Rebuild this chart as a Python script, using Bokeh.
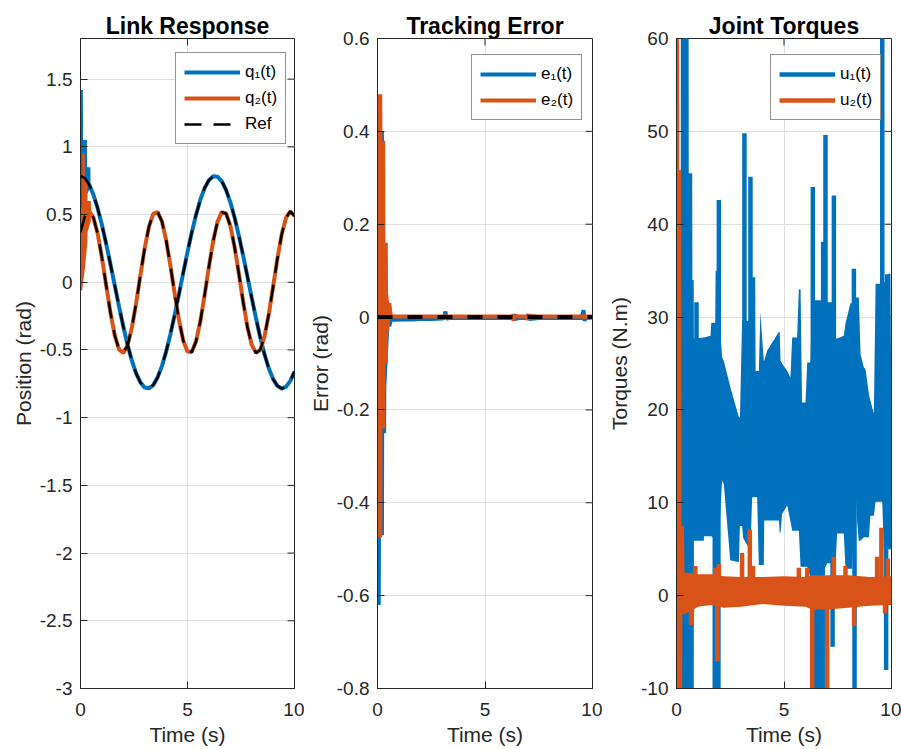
import math
from bokeh.plotting import figure
from bokeh.models import Range1d, FixedTicker, Legend, LegendItem, Span
from bokeh.layouts import row
from bokeh.embed import file_html
from bokeh.resources import INLINE

BLUE = "#0072BD"
ORANGE = "#D95319"
AX = "#262626"
GRID = "#e0e0e0"
FONT = "Liberation Sans"

# ---------------- Link response (reference trajectories, read at 0.2 s steps) ----------------
t_ref = [0.0, 0.2, 0.4, 0.6, 0.8, 1.0, 1.2, 1.4, 1.6, 1.8, 2.0, 2.2, 2.4, 2.6, 2.8, 3.0, 3.2, 3.4,
         3.6, 3.8, 4.0, 4.2, 4.4, 4.6, 4.8, 5.0, 5.2, 5.4, 5.6, 5.8, 6.0, 6.2, 6.4, 6.6, 6.8, 7.0,
         7.2, 7.4, 7.6, 7.8, 8.0, 8.2, 8.4, 8.6, 8.8, 9.0, 9.2, 9.4, 9.6, 9.8, 10.0]
q1_ref = [0.785, 0.769, 0.723, 0.648, 0.547, 0.424, 0.284, 0.133, -0.023, -0.178, -0.327, -0.462,
          -0.579, -0.673, -0.740, -0.777, -0.784, -0.759, -0.704, -0.621, -0.513, -0.385, -0.241,
          -0.088, 0.069, 0.223, 0.368, 0.498, 0.609, 0.695, 0.754, 0.782, 0.780, 0.746, 0.682,
          0.592, 0.478, 0.344, 0.197, 0.042, -0.114, -0.266, -0.408, -0.533, -0.637, -0.715,
          -0.765, -0.785, -0.773, -0.730, -0.659]
q2_ref = [0.370, 0.485, 0.524, 0.480, 0.360, 0.183, -0.023, -0.225, -0.392, -0.496, -0.523, -0.466,
          -0.336, -0.154, 0.053, 0.252, 0.411, 0.505, 0.519, 0.452, 0.313, 0.124, -0.084, -0.279,
          -0.430, -0.512, -0.515, -0.436, -0.288, -0.094, 0.114, 0.304, 0.446, 0.518, 0.508,
          0.418, 0.261, 0.064, -0.144, -0.330, -0.461, -0.522, -0.499, -0.400, -0.234, -0.034,
          0.173, 0.352, 0.475, 0.524, 0.490]

# start-up chattering of the measured links (envelopes)
q1_tr_t = [0.00, 0.11, 0.12, 0.30, 0.31, 0.46, 0.47, 0.60]
q1_tr_hi = [1.42, 1.42, 1.05, 1.05, 0.85, 0.85, 0.73, 0.65]
q1_tr_lo = [0.54, 0.54, 0.60, 0.62, 0.65, 0.70, 0.70, 0.65]
q2_tr_t = [0.00, 0.07, 0.08, 0.20, 0.21, 0.32, 0.33, 0.48, 0.50]
q2_tr_hi = [0.55, 0.55, 0.95, 0.95, 0.75, 0.75, 0.60, 0.60, 0.52]
q2_tr_lo = [-0.06, -0.06, -0.06, 0.10, 0.10, 0.30, 0.37, 0.45, 0.52]

# ---------------- Tracking error ----------------
e1_tr_t = [0.00, 0.15, 0.16, 0.30, 0.31, 0.40, 0.41, 0.55, 0.65]
e1_tr_hi = [0.26, 0.40, 0.40, 0.40, 0.05, 0.05, 0.05, 0.00, 0.00]
e1_tr_lo = [-0.62, -0.62, -0.47, -0.47, -0.25, -0.25, -0.15, -0.02, -0.005]
e2_tr_t = [0.00, 0.22, 0.23, 0.36, 0.37, 0.48, 0.49, 0.62]
e2_tr_hi = [0.48, 0.48, 0.38, 0.38, 0.16, 0.16, 0.05, 0.00]
e2_tr_lo = [-0.475, -0.475, -0.24, -0.24, -0.10, -0.10, -0.04, 0.00]

e_t = [0.55, 0.62, 0.8, 1.2, 1.6, 2.0, 2.5, 3.0, 3.1, 3.16, 3.22, 3.3, 4.0, 4.5, 5.0, 5.5, 6.0,
       6.28, 6.33, 6.38, 6.6, 6.95, 7.0, 7.05, 7.5, 8.0, 8.5, 9.0, 9.5, 9.58, 9.63, 9.68, 10.0]
e1 = [-0.020, -0.006, -0.006, -0.005, -0.005, -0.004, -0.004, -0.003, -0.002, 0.012, -0.004,
      -0.002, -0.002, -0.002, -0.002, -0.002, -0.002, -0.002, 0.006, -0.004, -0.002, -0.002,
      0.006, -0.004, -0.002, -0.002, -0.002, -0.002, -0.002, 0.015, -0.008, -0.002, -0.001]
e2 = [0.030, 0.002, 0.001, 0.001, 0.001, 0.001, 0.001, 0.001, 0.001, 0.002, 0.001, 0.001, 0.001,
      0.001, 0.001, 0.001, 0.001, 0.001, -0.008, 0.003, 0.001, 0.001, -0.006, 0.003, 0.001, 0.001,
      0.001, 0.001, 0.001, 0.003, -0.002, 0.001, 0.001]

# ---------------- Joint torques (chattering band envelopes + isolated spikes) ----------------
u1_t = [0.00, 0.19, 0.20, 0.56, 0.57, 0.73, 0.74, 0.80, 0.81, 1.27, 1.28, 1.58, 1.62, 1.80, 1.82,
        1.96, 2.02, 2.12, 2.20, 2.50, 2.90, 2.95, 3.05, 3.10, 3.40, 3.44, 3.52, 3.66, 3.68, 3.75,
        3.83, 3.90, 4.06, 4.08, 4.22, 4.76, 4.80, 4.84, 4.91, 5.15, 5.30, 5.38, 5.61, 5.69, 5.77,
        5.84, 6.00, 6.08, 6.23, 6.30, 6.70, 7.01, 7.32, 7.40, 7.47, 7.78, 7.86, 8.09, 8.17, 8.33,
        8.40, 8.48, 8.56, 8.71, 8.79, 8.95, 9.02, 9.18, 9.26, 9.49, 9.57, 9.64, 9.88, 9.95, 10.00]
u1_hi = [-15, -15, 75, 75, 45.5, 45.5, 34.0, 34.0, 27.7, 27.8, 27.8, 28.0, 29.4, 29.4, 35.0,
         35.0, 29.0, 25.7, 25.3, 22.5, 19.2, 19.2, 29.6, 29.6, 29.6, 34.3, 34.3, 34.3, 24.2, 24.2,
         24.2, 30.5, 25.3, 25.3, 26.4, 28.4, 28.4, 25.3, 25.0, 24.2, 23.5, 27.8, 27.8, 33.0, 33.0,
         20.8, 20.8, 25.1, 25.1, 31.8, 31.8, 31.6, 31.6, 27.7, 27.7, 28.0, 29.3, 31.5, 31.5, 32.1,
         32.1, 32.1, 26.0, 24.6, 24.4, 21.7, 21.0, 19.6, 33.6, 33.6, 33.6, 33.6, 34.7, 34.7, 18.1]
u1_lo = [-15, -15, -15, -15, -15, -15, -15, -15, 5.9, 5.9, 6.4, 6.4, 6.4, 6.0, 6.0,
         6.0, 8.0, 12.4, 12.0, 3.8, 3.6, 7.5, 7.5, 6.2, 5.0, 5.0, 10.6, 10.6, 10.6, 10.6,
         3.3, 3.3, 3.3, 8.1, 8.1, 8.1, 6.8, 6.8, 8.8, 9.7, 8.0, 7.0, 7.0, 7.0, 3.1,
         3.1, 3.1, 3.1, 2.0, 2.0, 2.0, 3.5, 3.5, 3.5, 6.7, 6.7, 2.9, 2.9, 2.9, 11.7,
         8.0, 5.9, 5.9, 6.3, 6.3, 6.3, 8.6, 8.6, 10.1, 10.1, 10.1, 5.0, 5.0, 5.0, 5.0]
u1_spike_t = [0.93, 1.97, 3.16, 3.44, 6.34, 6.82, 6.93, 7.32, 8.25, 9.57, 9.80]
u1_spike_top = [31.6, 42.6, 49.8, 45.1, 44.0, 38.1, 49.6, 43.1, 35.2, 75.0, 34.6]
u1_dip_t = [1.78, 1.95, 6.47, 6.62, 6.80, 7.26, 8.28, 9.75]
u1_dip_bot = [-15, -15, -15, -15, -15, -5.5, -15, -8.0]

u2_t = [0.00, 0.12, 0.13, 0.22, 0.23, 0.26, 0.27, 0.35, 0.37, 0.80, 1.00, 1.60, 2.20, 3.00,
        4.00, 5.00, 6.00, 6.30, 7.00, 8.00, 9.00, 10.00]
u2_hi = [75, 75, 45.8, 45.8, 7.5, 7.5, 7.5, 7.5, 2.5, 2.4, 2.3, 2.3, 2.1, 2.0,
         2.0, 2.1, 2.0, 2.2, 2.2, 2.2, 2.0, 2.1]
u2_lo = [-15, -15, -15, -15, -15, -15, -2.0, -2.0, -2.0, -1.5, -1.2, -1.0, -1.3, -1.2,
         -0.9, -1.1, -1.2, -1.5, -1.5, -1.3, -1.1, -1.0]
u2_spike_t = [0.88, 1.81, 1.97, 3.05, 3.41, 3.56, 5.69, 6.08, 7.32, 7.86, 9.33, 9.53, 9.83]
u2_spike_top = [3.2, 3.0, 3.4, 4.6, 7.1, 3.2, 3.0, 3.0, 4.2, 3.2, 4.2, 7.3, 4.0]
u2_dip_t = [0.68, 1.90, 6.31, 7.01, 8.26, 9.70]
u2_dip_bot = [-3.2, -7.1, -15, -15, -3.3, -1.9]

time_ticks = [0, 5, 10]
pos_ticks = [-3, -2.5, -2, -1.5, -1, -0.5, 0, 0.5, 1, 1.5]
err_ticks = [-0.8, -0.6, -0.4, -0.2, 0, 0.2, 0.4, 0.6]
tq_ticks = [-10, 0, 10, 20, 30, 40, 50, 60]

X_RANGE = (0, 10)
FRAME_H = 650


def fmt(v):
    return "%g" % v


def make_fig(title, ylabel, yr, yticks, lb, rb, fw, ylab_standoff):
    p = figure(frame_width=fw, frame_height=FRAME_H, x_range=Range1d(*X_RANGE),
               y_range=Range1d(*yr), output_backend="svg", toolbar_location=None,
               min_border_left=lb, min_border_right=rb, min_border_top=38, min_border_bottom=61,
               x_axis_label="Time (s)", y_axis_label=ylabel, background_fill_color="white",
               border_fill_color="white")
    p.outline_line_color = AX
    p.outline_line_width = 1
    p.title.text = title
    p.title.text_font = FONT
    p.title.text_font_size = "23px"
    p.title.text_font_style = "bold"
    p.title.text_color = "black"
    p.title.align = "center"
    p.title.standoff = 0
    for ax, ticks in ((p.xaxis[0], time_ticks), (p.yaxis[0], yticks)):
        ax.ticker = FixedTicker(ticks=ticks)
        ax.major_label_overrides = {v: fmt(v) for v in ticks}
        ax.axis_line_color = AX
        ax.major_tick_line_color = AX
        ax.major_tick_in = 7
        ax.major_tick_out = 0
        ax.minor_tick_line_color = None
        ax.major_label_text_font = FONT
        ax.major_label_text_font_size = "19px"
        ax.major_label_text_color = AX
        ax.axis_label_text_font = FONT
        ax.axis_label_text_font_size = "21px"
        ax.axis_label_text_font_style = "normal"
        ax.axis_label_text_color = AX
    p.xaxis[0].major_label_standoff = 14
    p.xaxis[0].axis_label_standoff = 4
    p.yaxis[0].major_label_standoff = 8
    p.yaxis[0].axis_label_standoff = ylab_standoff
    # inward ticks on the right and top edges of the box (MATLAB "box on")
    p.ray(x=[X_RANGE[1]] * len(yticks), y=yticks, length=7, length_units="screen",
          angle=math.pi, line_color=AX, line_width=1)
    p.ray(x=time_ticks, y=[yr[1]] * len(time_ticks), length=7, length_units="screen",
          angle=-math.pi / 2, line_color=AX, line_width=1)
    p.xgrid.ticker = FixedTicker(ticks=time_ticks)
    p.ygrid.ticker = FixedTicker(ticks=yticks)
    for g in (p.xgrid[0], p.ygrid[0]):
        g.grid_line_color = GRID
        g.grid_line_width = 1
    return p


def add_legend(p, items, loc):
    leg = Legend(items=items, location=loc)
    leg.label_text_font = FONT
    leg.label_text_font_size = "17px"
    leg.label_text_color = "black"
    leg.glyph_width = 56
    leg.glyph_height = 22
    leg.label_height = 22
    leg.spacing = 4
    leg.padding = 8
    leg.margin = 0
    leg.label_standoff = 5
    leg.border_line_color = AX
    leg.border_line_width = 1
    leg.background_fill_color = "white"
    leg.background_fill_alpha = 1
    p.add_layout(leg)


# ---- panel 1
p1 = make_fig("Link Response", "Position (rad)", (-3, 1.8), pos_ticks, 80, 10, 214, 2)
p1.varea(x=q1_tr_t, y1=q1_tr_lo, y2=q1_tr_hi, fill_color=BLUE)
l1 = p1.line(t_ref[2:], q1_ref[2:], line_color=BLUE, line_width=4)
p1.varea(x=q2_tr_t, y1=q2_tr_lo, y2=q2_tr_hi, fill_color=ORANGE)
l2 = p1.line(t_ref[2:], q2_ref[2:], line_color=ORANGE, line_width=4)
lr = p1.line(t_ref, q1_ref, line_color="black", line_width=2.5, line_dash="17 12")
p1.line(t_ref, q2_ref, line_color="black", line_width=2.5, line_dash="17 12")
add_legend(p1, [LegendItem(label="q\u2081(t)", renderers=[l1]),
                LegendItem(label="q\u2082(t)", renderers=[l2]),
                LegendItem(label="Ref", renderers=[lr])], (95, 544))

# ---- panel 2
p2 = make_fig("Tracking Error", "Error (rad)", (-0.8, 0.6), err_ticks, 73, 10, 215, 2)
p2.varea(x=e1_tr_t, y1=e1_tr_lo, y2=e1_tr_hi, fill_color=BLUE)
m1 = p2.line(e_t, e1, line_color=BLUE, line_width=4)
p2.varea(x=e2_tr_t, y1=e2_tr_lo, y2=e2_tr_hi, fill_color=ORANGE)
m2 = p2.line(e_t, e2, line_color=ORANGE, line_width=4)
p2.add_layout(Span(location=0, dimension="width", line_color="black", line_width=4,
                   line_dash="15 15"))
add_legend(p2, [LegendItem(label="e\u2081(t)", renderers=[m1]),
                LegendItem(label="e\u2082(t)", renderers=[m2])], (94, 568))

# ---- panel 3
p3 = make_fig("Joint Torques", "Torques (N.m)", (-10, 60), tq_ticks, 74, 10, 215, 7)
p3.varea(x=u1_t, y1=u1_lo, y2=u1_hi, fill_color=BLUE)
k1 = p3.segment(x0=u1_spike_t, y0=[15] * len(u1_spike_t), x1=u1_spike_t, y1=u1_spike_top,
                line_color=BLUE, line_width=4.5)
p3.segment(x0=u1_dip_t, y0=[15] * len(u1_dip_t), x1=u1_dip_t, y1=u1_dip_bot,
           line_color=BLUE, line_width=4.5)
p3.varea(x=u2_t, y1=u2_lo, y2=u2_hi, fill_color=ORANGE)
k2 = p3.segment(x0=u2_spike_t, y0=[0.5] * len(u2_spike_t), x1=u2_spike_t, y1=u2_spike_top,
                line_color=ORANGE, line_width=4.5)
p3.segment(x0=u2_dip_t, y0=[0.5] * len(u2_dip_t), x1=u2_dip_t, y1=u2_dip_bot,
           line_color=ORANGE, line_width=4.5)
add_legend(p3, [LegendItem(label="u\u2081(t)", renderers=[k1]),
                LegendItem(label="u\u2082(t)", renderers=[k2])], (94, 568))

layout = row(p1, p2, p3)
open("out.html", "w").write(file_html(layout, INLINE))
